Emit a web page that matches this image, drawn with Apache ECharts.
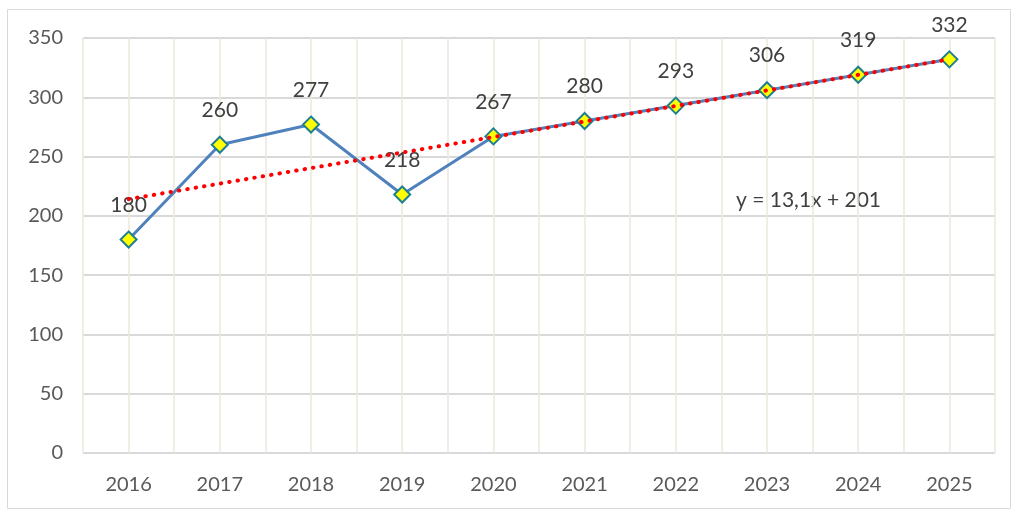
<!DOCTYPE html>
<html>
<head>
<meta charset="utf-8">
<script src="https://cdn.jsdelivr.net/npm/echarts@6/dist/echarts.min.js"></script>
<style>
  html, body { margin: 0; padding: 0; background: #fff; }
  #chart { width: 1012px; height: 510px; }
</style>
</head>
<body>
<div id="chart"></div>
<script>
const years = ['2016', '2017', '2018', '2019', '2020', '2021', '2022', '2023', '2024', '2025'];
const values = [180, 260, 277, 218, 267, 280, 293, 306, 319, 332];
const trendSlope = 13.1;
const trendIntercept = 201;
const yTicks = [0, 50, 100, 150, 200, 250, 300, 350];
const equationText = 'y = 13,1x + 201';

// linear trend from the displayed equation, x = 1..n
const trend = years.map((_, i) => +(trendSlope * (i + 1) + trendIntercept).toFixed(1));
const halfSlots = years.flatMap(y => [y + 'a', y + 'b']);

const chart = echarts.init(document.getElementById('chart'));
const font = 'Lato, "Open Sans", sans-serif';

chart.setOption({
  animation: false,
  backgroundColor: '#fff',
  grid: { left: 83, right: 17, top: 38, bottom: 57 },
  xAxis: [
    {
      type: 'category',
      data: years,
      boundaryGap: true,
      axisLine: { show: false },
      axisTick: { show: false },
      splitLine: { show: false },
      axisLabel: { color: '#595959', fontSize: 20, fontFamily: font, margin: 22 }
    },
    {
      type: 'category',
      data: halfSlots,
      boundaryGap: true,
      position: 'bottom',
      axisLine: { show: false },
      axisTick: { show: false },
      axisLabel: { show: false },
      splitLine: { show: true, interval: 0, lineStyle: { color: '#ece7da', width: 1.5 } }
    }
  ],
  yAxis: {
    type: 'value',
    min: yTicks[0],
    max: yTicks[yTicks.length - 1],
    interval: 50,
    axisLine: { show: false },
    axisTick: { show: false },
    axisLabel: { color: '#595959', fontSize: 20, fontFamily: font, margin: 20 },
    splitLine: { lineStyle: { color: '#d9d9d9', width: 2 } }
  },
  graphic: [
    {
      type: 'rect',
      shape: { x: 7.5, y: 9.5, width: 1003, height: 499 },
      style: { fill: 'none', stroke: '#d9d9d9', lineWidth: 1 },
      silent: true,
      z: -1
    },
    {
      type: 'text',
      left: 736,
      top: 190,
      style: { text: equationText, fill: '#404040', fontSize: 21, fontFamily: font }
    }
  ],
  series: [
    {
      type: 'line',
      data: values,
      lineStyle: { color: '#4f81bd', width: 3 },
      symbol: 'diamond',
      symbolSize: 16,
      itemStyle: { color: '#ffff00', borderColor: '#1f7f91', borderWidth: 2 },
      label: {
        show: true,
        position: 'top',
        distance: 15,
        color: '#404040',
        fontSize: 21,
        fontFamily: font
      },
      z: 2
    },
    {
      type: 'line',
      data: trend,
      symbol: 'none',
      lineStyle: { color: '#ff0000', width: 4, type: [0.5, 8], cap: 'round' },
      z: 3
    }
  ]
});
</script>
</body>
</html>
